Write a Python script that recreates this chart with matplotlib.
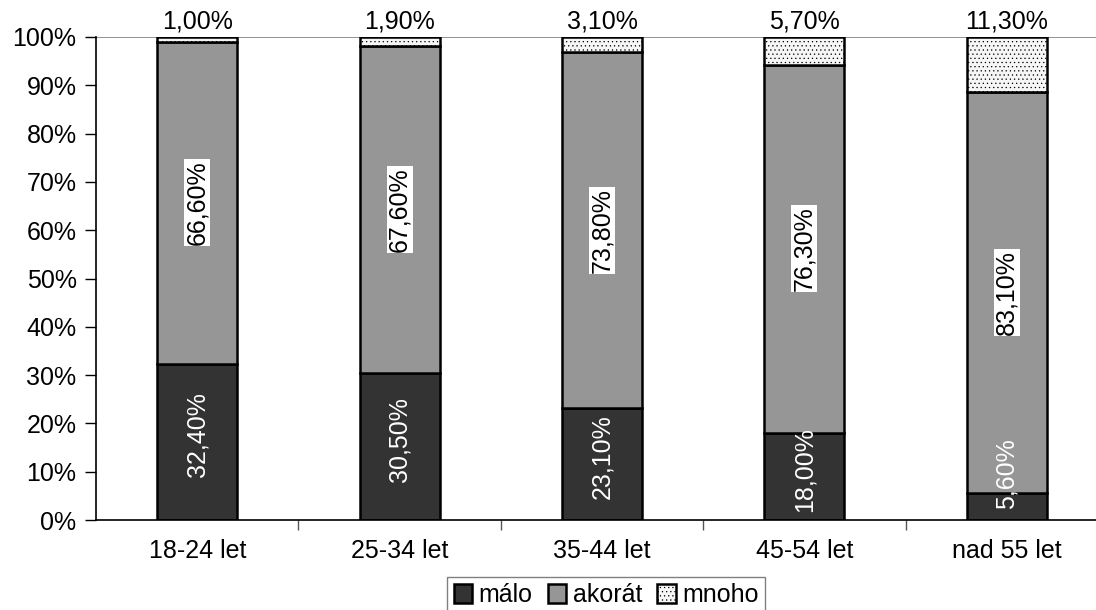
import matplotlib.pyplot as plt
import numpy as np

plt.rcParams["font.family"] = ["Liberation Sans", "DejaVu Sans"]
plt.rcParams["hatch.color"] = "#dcdcdc"
plt.rcParams["hatch.linewidth"] = 0.4

# ----- Data (percent of respondents per age group) -----
categories = ["18-24 let", "25-34 let", "35-44 let", "45-54 let", "nad 55 let"]
malo = [32.4, 30.5, 23.1, 18.0, 5.6]
akorat = [66.6, 67.6, 73.8, 76.3, 83.1]
mnoho = [1.0, 1.9, 3.1, 5.7, 11.3]
series_names = ["málo", "akorát", "mnoho"]


def fmt(v):
    return f"{v:.2f}".replace(".", ",") + "%"


fig = plt.figure(figsize=(10.96, 6.10), dpi=100)
ax = fig.add_axes([96 / 1096, 90 / 610, 1012 / 1096, 483 / 610])

x = np.arange(len(categories))
width = 0.395
malo = np.array(malo)
akorat = np.array(akorat)
mnoho = np.array(mnoho)

b1 = ax.bar(x, malo, width, color="#333333", edgecolor="black", linewidth=1.8,
            label=series_names[0], zorder=2)
b2 = ax.bar(x, akorat, width, bottom=malo, color="#969696", edgecolor="black",
            linewidth=1.8, label=series_names[1], zorder=2)
b3 = ax.bar(x, mnoho, width, bottom=malo + akorat, color="#f6f6f6", hatch="....",
            edgecolor="black", linewidth=1.8, label=series_names[2], zorder=2)

fs = 18

# value labels
for i in range(len(categories)):
    ax.text(x[i], max(malo[i] / 2 + 1.5, 9.5), fmt(malo[i]), rotation=90,
            ha="center", va="center", color="white", fontsize=fs, zorder=4)
    ax.text(x[i], malo[i] + akorat[i] / 2, fmt(akorat[i]), rotation=90,
            ha="center", va="center", color="black", fontsize=fs, zorder=4,
            bbox=dict(facecolor="white", edgecolor="none", pad=0.8))
    ax.text(x[i], 103.2, fmt(mnoho[i]), ha="center", va="center",
            color="black", fontsize=fs, zorder=4, clip_on=False,
            bbox=dict(facecolor="white", edgecolor="none", pad=0.8))

# gray line across the top of the plot area
ax.axhline(100, color="#808080", linewidth=1.2, zorder=1)

ax.set_xlim(-0.5, 4.5)
ax.set_ylim(0, 100)
ax.set_yticks(np.arange(0, 101, 10))
ax.set_yticklabels([f"{v}%" for v in range(0, 101, 10)], fontsize=fs)
ax.set_xticks(x)
ax.set_xticklabels(categories, fontsize=fs)
ax.set_xticks(x[:-1] + 0.5, minor=True)
ax.tick_params(axis="x", which="major", length=0, pad=14)
ax.tick_params(axis="x", which="minor", length=7, width=1, color="#555555",
               direction="out")
ax.tick_params(axis="y", length=8, width=1, direction="out", pad=6)

for s in ["top", "right"]:
    ax.spines[s].set_visible(False)
ax.spines["left"].set_linewidth(1.2)
ax.spines["bottom"].set_linewidth(1.2)

fig.legend(handles=[b1, b2, b3], loc="upper center",
           bbox_to_anchor=(606 / 1096, 1 - 577 / 610), ncol=3, fontsize=fs,
           frameon=True, fancybox=False, edgecolor="#808080", framealpha=1,
           handlelength=0.75, handleheight=0.75, handletextpad=0.25,
           columnspacing=0.6, borderpad=0.25, borderaxespad=0)

fig.savefig("out.png", dpi=100)
